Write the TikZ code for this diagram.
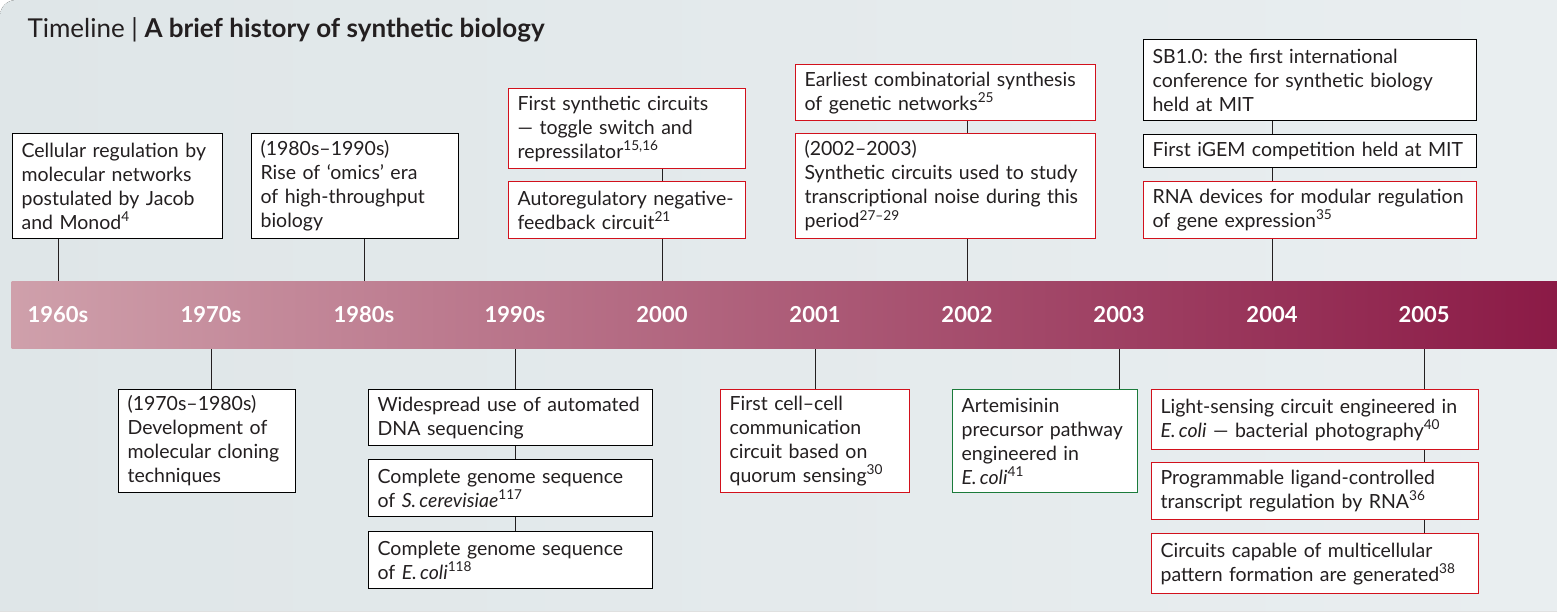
\documentclass[tikz,border=0pt]{standalone}
\usepackage{fontspec}
\setmainfont{Lato}
\usetikzlibrary{positioning, calc}
\definecolor{cbgl}{HTML}{DFE6E8}
\definecolor{cbgr}{HTML}{E9EEF0}
\definecolor{cbarl}{HTML}{CFA0AB}
\definecolor{cbarm}{HTML}{AA596C}
\definecolor{cbarr}{HTML}{8B1A46}
\definecolor{cred}{HTML}{D2111C}
\definecolor{cgreen}{HTML}{1B7B3B}
\definecolor{cink}{HTML}{231F20}
\tikzset{
  every picture/.style={line width=1pt},
  evt/.style={draw=#1, fill=white, line width=1.2pt, anchor=north west, align=left,
    inner xsep=9pt, inner ysep=0pt, text=cink, font=\fontsize{19.5}{24}\selectfont\frenchspacing},
  evt/.default=black,
  stem/.style={draw=cink, line width=1pt},
  year/.style={text=white, font=\fontsize{22}{24}\selectfont\bfseries},
}

\begin{document}
\begin{tikzpicture}[x=1pt, y=-1pt]
  \useasboundingbox (0,0) rectangle (1557,611);
  % ---------- background and bar
  \fill[left color=cbgl, right color=cbgr] (0,611) [rounded corners=16pt]-- (0,0) [sharp corners]-- (1557,0) -- (1557,611) -- cycle;
  \node[anchor=base west, inner sep=0pt, text=cink, font=\fontsize{26}{28}\selectfont] (title) at (27,37)
    {Timeline | \textbf{A brief history of synthetic biology}};
  \node[anchor=north west, inner sep=0pt, minimum width=1546pt, minimum height=67pt,
    left color=cbarl, middle color=cbarm, right color=cbarr] (bar) at (11,281) {};
  \foreach \yr/\x in {1960s/58, 1970s/211, 1980s/364, 1990s/515, 2000/662,
                      2001/815, 2002/967, 2003/1119, 2004/1272, 2005/1424}
    \node[year] (y\yr) at (\x,315) {\yr};
  % ---------- above the bar
  \node[evt, text width=192pt, minimum height=105pt] (b1) at (12,133)
    {Cellular regulation by\\ molecular networks\\ postulated by Jacob\\ and Monod\textsuperscript{4}};
  \node[evt, text width=189pt, minimum height=105pt] (b2) at (251,133)
    {(1980s--1990s)\\ Rise of ‘omics’ era\\ of high-throughput\\ biology};
  \node[evt=cred, text width=219pt, minimum height=80pt] (b3a) at (508,88)
    {First synthetic circuits\\ --- toggle switch and\\ repressilator\textsuperscript{15,16}};
  \node[evt=cred, text width=219pt, minimum height=57pt] (b3b) at (508,181)
    {Autoregulatory negative-\\feedback circuit\textsuperscript{21}};
  \node[evt=cred, text width=282pt, minimum height=56pt] (b4a) at (795,64)
    {Earliest combinatorial synthesis\\ of genetic networks\textsuperscript{25}};
  \node[evt=cred, text width=282pt, minimum height=105pt] (b4b) at (795,133)
    {(2002--2003)\\ Synthetic circuits used to study\\ transcriptional noise during this\\ period\textsuperscript{27--29}};
  \node[evt, text width=315pt, minimum height=81pt] (b5a) at (1143,39)
    {SB1.0: the first international\\ conference for synthetic biology\\ held at MIT};
  \node[evt, text width=315pt, minimum height=33pt] (b5b) at (1143,134)
    {First iGEM competition held at MIT};
  \node[evt=cred, text width=315pt, minimum height=57pt] (b5c) at (1143,181)
    {RNA devices for modular regulation\\ of gene expression\textsuperscript{35}};
  % ---------- below the bar
  \node[evt, text width=159pt, minimum height=103pt] (c1) at (118,389)
    {(1970s--1980s)\\ Development of\\ molecular cloning\\ techniques};
  \node[evt, text width=266pt, minimum height=56pt] (c2a) at (368,389)
    {Widespread use of automated\\ DNA sequencing};
  \node[evt, text width=266pt, minimum height=57pt] (c2b) at (368,459)
    {Complete genome sequence\\ of \textit{S.\,cerevisiae}\textsuperscript{117}};
  \node[evt, text width=266pt, minimum height=57pt] (c2c) at (368,531)
    {Complete genome sequence\\ of \textit{E.\,coli}\textsuperscript{118}};
  \node[evt=cred, text width=171pt, minimum height=103pt] (c3) at (720,389)
    {First cell--cell\\ communication\\ circuit based on\\ quorum sensing\textsuperscript{30}};
  \node[evt=cgreen, text width=167pt, minimum height=103pt] (c4) at (952,389)
    {Artemisinin\\ precursor pathway\\ engineered in\\ \textit{E.\,coli}\textsuperscript{41}};
  \node[evt=cred, text width=309pt, minimum height=60pt] (c5a) at (1151,389)
    {Light-sensing circuit engineered in\\ \textit{E.\,coli} --- bacterial photography\textsuperscript{40}};
  \node[evt=cred, text width=309pt, minimum height=57pt] (c5b) at (1151,462)
    {Programmable ligand-controlled\\ transcript regulation by RNA\textsuperscript{36}};
  \node[evt=cred, text width=309pt, minimum height=60pt] (c5c) at (1151,533)
    {Circuits capable of multicellular\\ pattern formation are generated\textsuperscript{38}};
  % ---------- stems
  \draw[stem] (b1.south -| y1960s) -- (y1960s |- bar.north);
  \draw[stem] (b2.south -| y1980s) -- (y1980s |- bar.north);
  \draw[stem] (b3a.south -| y2000) -- (b3b.north -| y2000);
  \draw[stem] (b3b.south -| y2000) -- (y2000 |- bar.north);
  \draw[stem] (b4a.south -| y2002) -- (b4b.north -| y2002);
  \draw[stem] (b4b.south -| y2002) -- (y2002 |- bar.north);
  \draw[stem] (b5a.south -| y2004) -- (b5b.north -| y2004);
  \draw[stem] (b5b.south -| y2004) -- (b5c.north -| y2004);
  \draw[stem] (b5c.south -| y2004) -- (y2004 |- bar.north);
  \draw[stem] (y1970s |- bar.south) -- (c1.north -| y1970s);
  \draw[stem] (y1990s |- bar.south) -- (c2a.north -| y1990s);
  \draw[stem] (c2a.south -| y1990s) -- (c2b.north -| y1990s);
  \draw[stem] (c2b.south -| y1990s) -- (c2c.north -| y1990s);
  \draw[stem] (y2001 |- bar.south) -- (c3.north -| y2001);
  \draw[stem] (y2003 |- bar.south) -- (c4.north -| y2003);
  \draw[stem] (y2005 |- bar.south) -- (c5a.north -| y2005);
  \draw[stem] (c5a.south -| y2005) -- (c5b.north -| y2005);
  \draw[stem] (c5b.south -| y2005) -- (c5c.north -| y2005);
\end{tikzpicture}
\end{document}
